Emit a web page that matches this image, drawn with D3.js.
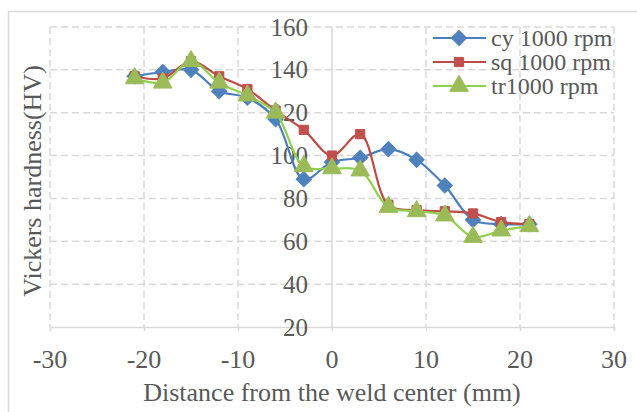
<!DOCTYPE html>
<html>
<head>
<meta charset="utf-8">
<title>Vickers hardness</title>
<style>
  body { margin: 0; background: #fff; }
  svg { display: block; }
</style>
</head>
<body>
<script src="https://d3js.org/d3.v7.min.js"></script>
<script>
  // hardness data
  const distance = [-21, -18, -15, -12, -9, -6, -3, 0, 3, 6, 9, 12, 15, 18, 21];
  const cy = [137, 139, 140, 130, 127, 117, 89, 97, 99, 103, 98, 86, 70, 68, 68];
  const sq = [137, 136, 144, 137, 131, 121, 112, 100, 110, 77, 74.5, 74, 73, 69, 68];
  const tr = [136, 134, 144, 134, 128, 120, 95, 94, 93, 76, 74, 72, 62, 65, 67];
  const seriesNames = ["cy 1000 rpm", "sq 1000 rpm", "tr1000 rpm"];
  const xTicks = [-30, -20, -10, 0, 10, 20, 30];
  const yTicks = [20, 40, 60, 80, 100, 120, 140, 160];

  const W = 637, H = 412;
  const font = "'Liberation Serif', 'Times New Roman', serif";
  const textColor = "#595959";
  const gridColor = "#d9d9d9";

  const x = d3.scaleLinear().domain([-30, 30]).range([50, 614]);
  const y = d3.scaleLinear().domain([20, 160]).range([327, 27]);

  const svg = d3.select("body").append("svg")
    .attr("width", W)
    .attr("height", H);

  svg.append("rect").attr("width", W).attr("height", H).attr("fill", "#fff");

  // outer chart border
  svg.append("rect")
    .attr("x", 8.5).attr("y", 11.5)
    .attr("width", 660).attr("height", 440)
    .attr("fill", "none")
    .attr("stroke", gridColor)
    .attr("stroke-width", 1.5);

  // grid
  const grid = svg.append("g");
  grid.selectAll(".hg")
    .data(yTicks.filter(d => d > 20))
    .enter().append("line")
    .attr("x1", x(-30)).attr("x2", x(30))
    .attr("y1", d => y(d)).attr("y2", d => y(d))
    .attr("stroke", gridColor)
    .attr("stroke-width", 1.5)
    .attr("stroke-dasharray", "7,4");
  grid.selectAll(".vg")
    .data(xTicks.filter(d => d !== 0))
    .enter().append("line")
    .attr("x1", d => x(d)).attr("x2", d => x(d))
    .attr("y1", y(160)).attr("y2", y(20))
    .attr("stroke", gridColor)
    .attr("stroke-width", 1.5)
    .attr("stroke-dasharray", "7,4");

  // axes lines (axis crosses at x = 0)
  const xAxis = d3.axisBottom(x).tickValues(xTicks).tickSize(4).tickFormat("");
  svg.append("g")
    .attr("transform", `translate(0,${y(20)})`)
    .call(xAxis)
    .call(g => g.selectAll("line, path").attr("stroke", gridColor).attr("stroke-width", 1.5));

  svg.append("line")
    .attr("x1", x(0)).attr("x2", x(0))
    .attr("y1", y(160)).attr("y2", y(20))
    .attr("stroke", gridColor)
    .attr("stroke-width", 1.5);

  // tick labels
  svg.append("g").selectAll("text")
    .data(xTicks)
    .enter().append("text")
    .attr("x", d => x(d))
    .attr("y", 368)
    .attr("text-anchor", "middle")
    .attr("font-family", font)
    .attr("font-size", 26)
    .attr("fill", textColor)
    .text(d => d);

  svg.append("g").selectAll("text")
    .data(yTicks)
    .enter().append("text")
    .attr("x", 308)
    .attr("y", d => y(d))
    .attr("dy", "0.34em")
    .attr("text-anchor", "end")
    .attr("font-family", font)
    .attr("font-size", 25)
    .attr("fill", textColor)
    .text(d => d);

  // axis titles
  svg.append("text")
    .attr("x", 332)
    .attr("y", 401)
    .attr("text-anchor", "middle")
    .attr("font-family", font)
    .attr("font-size", 26)
    .attr("fill", textColor)
    .text("Distance from the weld center (mm)");

  svg.append("text")
    .attr("transform", "translate(41,181) rotate(-90)")
    .attr("text-anchor", "middle")
    .attr("font-family", font)
    .attr("font-size", 26)
    .attr("fill", textColor)
    .text("Vickers hardness(HV)");

  // series
  const series = [
    { name: seriesNames[0], values: cy, line: "#4A7EBB", fill: "#4F81BD", shape: d3.symbolSquare, size: 115, rot: 45 },
    { name: seriesNames[1], values: sq, line: "#BE4B48", fill: "#C0504D", shape: d3.symbolSquare, size: 85, rot: 0 },
    { name: seriesNames[2], values: tr, line: "#8FD14F", fill: "#9BBB59", shape: d3.symbolTriangle, size: 150, rot: 0 }
  ];

  const line = d3.line()
    .x((d, i) => x(distance[i]))
    .y(d => y(d))
    .curve(d3.curveCatmullRom.alpha(0.5));

  series.forEach(s => {
    const g = svg.append("g");
    g.append("path")
      .attr("d", line(s.values))
      .attr("fill", "none")
      .attr("stroke", s.line)
      .attr("stroke-width", 2.2);
    g.selectAll("path.m")
      .data(s.values)
      .enter().append("path")
      .attr("class", "m")
      .attr("transform", (d, i) => `translate(${x(distance[i])},${y(d)}) rotate(${s.rot})`)
      .attr("d", d3.symbol().type(s.shape).size(s.size))
      .attr("fill", s.fill)
      .attr("stroke", s.fill)
      .attr("stroke-width", 1);
  });

  // legend
  const legend = svg.append("g").attr("transform", "translate(433,0)");
  series.forEach((s, i) => {
    const ly = 38 + i * 24;
    legend.append("line")
      .attr("x1", 0).attr("x2", 53)
      .attr("y1", ly).attr("y2", ly)
      .attr("stroke", s.line)
      .attr("stroke-width", 2.2);
    legend.append("path")
      .attr("transform", `translate(26,${ly}) rotate(${s.rot})`)
      .attr("d", d3.symbol().type(s.shape).size(s.size))
      .attr("fill", s.fill)
      .attr("stroke", s.fill);
    legend.append("text")
      .attr("x", 58)
      .attr("y", ly)
      .attr("dy", "0.34em")
      .attr("font-family", font)
      .attr("font-size", 24)
      .attr("fill", textColor)
      .text(s.name);
  });
</script>
</body>
</html>
